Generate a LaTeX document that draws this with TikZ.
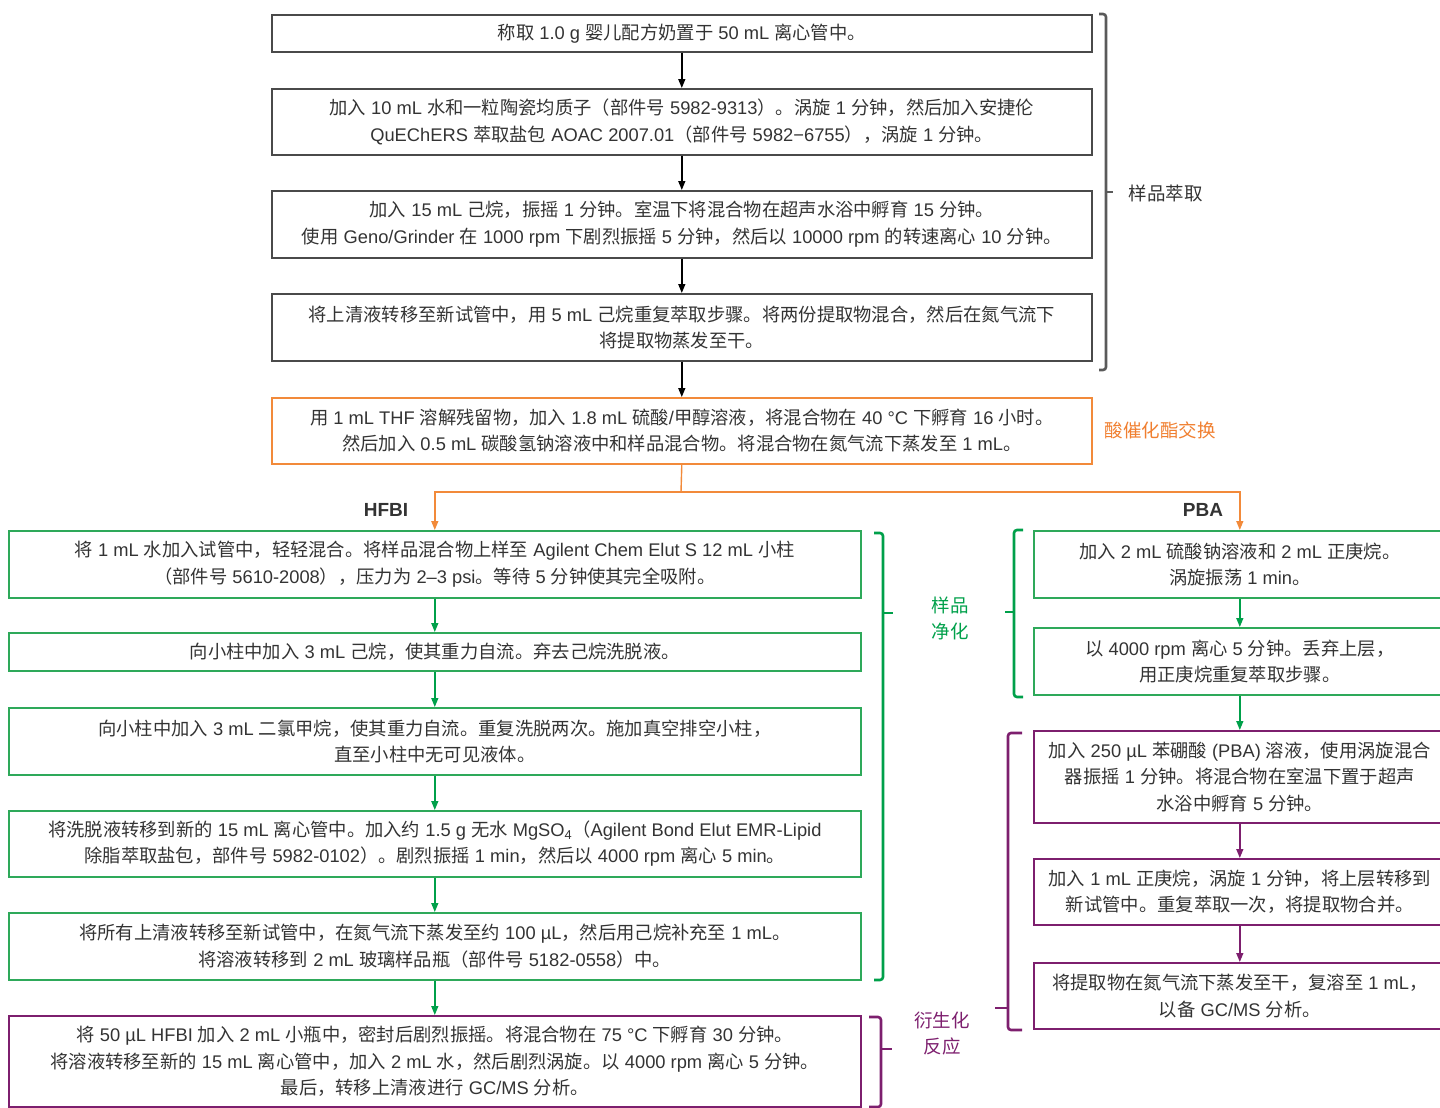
\documentclass[tikz,border=0pt]{standalone}
\usepackage{fontspec}
\setmainfont{Liberation Sans}
\newfontfamily\cjkfont{Noto Sans CJK SC}
\newfontfamily\latinfont{Liberation Sans}
\newfontfamily\latinb{Liberation Sans}
\XeTeXinterchartokenstate=1
\newXeTeXintercharclass\cjkcls
\count255="3000
\loop\XeTeXcharclass\count255=\cjkcls\advance\count255 by 1 \ifnum\count255<"3040 \repeat
\count255="4E00
\loop\XeTeXcharclass\count255=\cjkcls\advance\count255 by 1 \ifnum\count255<"A000 \repeat
\count255="FF00
\loop\XeTeXcharclass\count255=\cjkcls\advance\count255 by 1 \ifnum\count255<"FF20 \repeat
\XeTeXinterchartoks 0 \cjkcls = {\cjkfont}
\XeTeXinterchartoks 4095 \cjkcls = {\cjkfont}
\XeTeXinterchartoks \cjkcls 0 = {\latinfont}
\XeTeXinterchartoks \cjkcls 4095 = {\latinfont}
\usetikzlibrary{arrows.meta}
\definecolor{txt}{HTML}{333333}
\definecolor{gbox}{HTML}{4A4A4A}
\definecolor{gbr}{HTML}{5A5A5A}
\definecolor{grn}{HTML}{2EA95A}
\definecolor{grnd}{HTML}{00A04A}
\definecolor{pur}{HTML}{7D1F6E}
\definecolor{orgline}{HTML}{F28A3A}
\definecolor{orgt}{HTML}{F07F30}
\begin{document}
\begin{tikzpicture}[x=1pt,y=-1pt,
  font=\fontsize{18.3}{26.5}\selectfont,
  box/.style={draw, rectangle, align=center, anchor=north west, inner xsep=4pt, inner ysep=0pt, text=txt, line width=1.6pt},
  blackbox/.style={box, draw=gbox},
  orgbox/.style={box, draw=orgline},
  grnbox/.style={box, draw=grn},
  purbox/.style={box, draw=pur},
  arr/.style={line width=1.4pt, -{Triangle[width=7pt,length=9pt]}},
  brace/.style={line width=2.6pt, rounded corners=3pt},
  lbl/.style={font=\fontsize{18.5}{26}\selectfont, align=center}
]
\useasboundingbox (0,0) rectangle (1440,1108);

% top column
\node[blackbox, minimum width=820, minimum height=37] (b1) at (271,14) {称取 1.0 g 婴儿配方奶置于 50 mL 离心管中。};
\node[blackbox, minimum width=820, minimum height=66] (b2) at (271,88) {加入 10 mL 水和一粒陶瓷均质子（部件号 5982-9313）。涡旋 1 分钟，然后加入安捷伦\\QuEChERS 萃取盐包 AOAC 2007.01（部件号 5982−6755），涡旋 1 分钟。};
\node[blackbox, minimum width=820, minimum height=67] (b3) at (271,190) {加入 15 mL 己烷，振摇 1 分钟。室温下将混合物在超声水浴中孵育 15 分钟。\\使用 Geno/Grinder 在 1000 rpm 下剧烈振摇 5 分钟，然后以 10000 rpm 的转速离心 10 分钟。};
\node[blackbox, minimum width=820, minimum height=67] (b4) at (271,293) {将上清液转移至新试管中，用 5 mL 己烷重复萃取步骤。将两份提取物混合，然后在氮气流下\\将提取物蒸发至干。};
\node[orgbox, minimum width=820, minimum height=66] (o) at (271,397) {用 1 mL THF 溶解残留物，加入 1.8 mL 硫酸/甲醇溶液，将混合物在 40 °C 下孵育 16 小时。\\然后加入 0.5 mL 碳酸氢钠溶液中和样品混合物。将混合物在氮气流下蒸发至 1 mL。};

% left column
\node[grnbox, minimum width=852, minimum height=67] (g1) at (8,530) {将 1 mL 水加入试管中，轻轻混合。将样品混合物上样至 Agilent Chem Elut S 12 mL 小柱\\（部件号 5610-2008），压力为 2–3 psi。等待 5 分钟使其完全吸附。};
\node[grnbox, minimum width=852, minimum height=38] (g2) at (8,632) {向小柱中加入 3 mL 己烷，使其重力自流。弃去己烷洗脱液。};
\node[grnbox, minimum width=852, minimum height=67] (g3) at (8,707) {向小柱中加入 3 mL 二氯甲烷，使其重力自流。重复洗脱两次。施加真空排空小柱，\\直至小柱中无可见液体。};
\node[grnbox, minimum width=852, minimum height=66] (g4) at (8,810) {将洗脱液转移到新的 15 mL 离心管中。加入约 1.5 g 无水 MgSO\textsubscript{4}（Agilent Bond Elut EMR-Lipid\\除脂萃取盐包，部件号 5982-0102）。剧烈振摇 1 min，然后以 4000 rpm 离心 5 min。};
\node[grnbox, minimum width=852, minimum height=67] (g5) at (8,912) {将所有上清液转移至新试管中，在氮气流下蒸发至约 100 µL，然后用己烷补充至 1 mL。\\将溶液转移到 2 mL 玻璃样品瓶（部件号 5182-0558）中。};
\node[purbox, minimum width=852, minimum height=91] (p) at (8,1015) {将 50 µL HFBI 加入 2 mL 小瓶中，密封后剧烈振摇。将混合物在 75 °C 下孵育 30 分钟。\\将溶液转移至新的 15 mL 离心管中，加入 2 mL 水，然后剧烈涡旋。以 4000 rpm 离心 5 分钟。\\最后，转移上清液进行 GC/MS 分析。};

% right column
\node[grnbox, minimum width=412, minimum height=67] (r1) at (1033,530) {加入 2 mL 硫酸钠溶液和 2 mL 正庚烷。\\涡旋振荡 1 min。};
\node[grnbox, minimum width=412, minimum height=67] (r2) at (1033,627) {以 4000 rpm 离心 5 分钟。丢弃上层，\\用正庚烷重复萃取步骤。};
\node[purbox, minimum width=412, minimum height=92] (r3) at (1033,730) {加入 250 µL 苯硼酸 (PBA) 溶液，使用涡旋混合\\器振摇 1 分钟。将混合物在室温下置于超声\\水浴中孵育 5 分钟。};
\node[purbox, minimum width=412, minimum height=66] (r4) at (1033,858) {加入 1 mL 正庚烷，涡旋 1 分钟，将上层转移到\\新试管中。重复萃取一次，将提取物合并。};
\node[purbox, minimum width=412, minimum height=66] (r5) at (1033,962) {将提取物在氮气流下蒸发至干，复溶至 1 mL，\\以备 GC/MS 分析。};

% connectors
\draw[arr, draw=black] (b1) -- (b2);
\draw[arr, draw=black] (b2) -- (b3);
\draw[arr, draw=black] (b3) -- (b4);
\draw[arr, draw=black] (b4) -- (o);
\coordinate (split) at (681,492);
\draw[line width=1.4pt, orgline] (o.south) -- (split);
\draw[arr, draw=orgline] (split) -| (g1.north);
\draw[arr, draw=orgline] (split) -| (r1.north);
\draw[arr, draw=grnd] (g1) -- (g2);
\draw[arr, draw=grnd] (g2) -- (g3);
\draw[arr, draw=grnd] (g3) -- (g4);
\draw[arr, draw=grnd] (g4) -- (g5);
\draw[arr, draw=grnd] (g5) -- (p);
\draw[arr, draw=grnd] (r1) -- (r2);
\draw[arr, draw=grnd] (r2) -- (r3);
\draw[arr, draw=pur] (r3) -- (r4);
\draw[arr, draw=pur] (r4) -- (r5);

% labels
\node[font=\latinb\bfseries\fontsize{19}{20}\selectfont, text=txt] (hfbi) at (386,510) {HFBI};
\node[font=\latinb\bfseries\fontsize{19}{20}\selectfont, text=txt] (pba) at (1203,510) {PBA};
\node[lbl, anchor=west, text=txt] (l1) at (1125,193) {样品萃取};
\node[lbl, anchor=west, text=orgt] (l2) at (1101,430) {酸催化酯交换};
\node[lbl, text=grnd] (l3) at (950,618) {样品\\净化};
\node[lbl, text=pur] (l4) at (942,1034) {衍生化\\反应};

% braces
\draw[brace, gbr] (1099,14) -- (1106,14) -- (1106,370) -- (1099,370);
\draw[line width=2.6pt, gbr] (1106,192) -- (1113,192);
\draw[brace, grnd] (874,533) -- (883,533) -- (883,980) -- (874,980);
\draw[line width=2.6pt, grnd] (883,613) -- (893,613);
\draw[brace, grnd] (1023,530) -- (1014,530) -- (1014,697) -- (1023,697);
\draw[line width=2.6pt, grnd] (1014,612) -- (1005,612);
\draw[brace, pur] (869,1017) -- (881,1017) -- (881,1107) -- (869,1107);
\draw[line width=2.6pt, pur] (881,1049) -- (892,1049);
\draw[brace, pur] (1022,733) -- (1008,733) -- (1008,1030) -- (1022,1030);
\draw[line width=2.6pt, pur] (1008,1008) -- (995,1008);
\end{tikzpicture}
\end{document}
